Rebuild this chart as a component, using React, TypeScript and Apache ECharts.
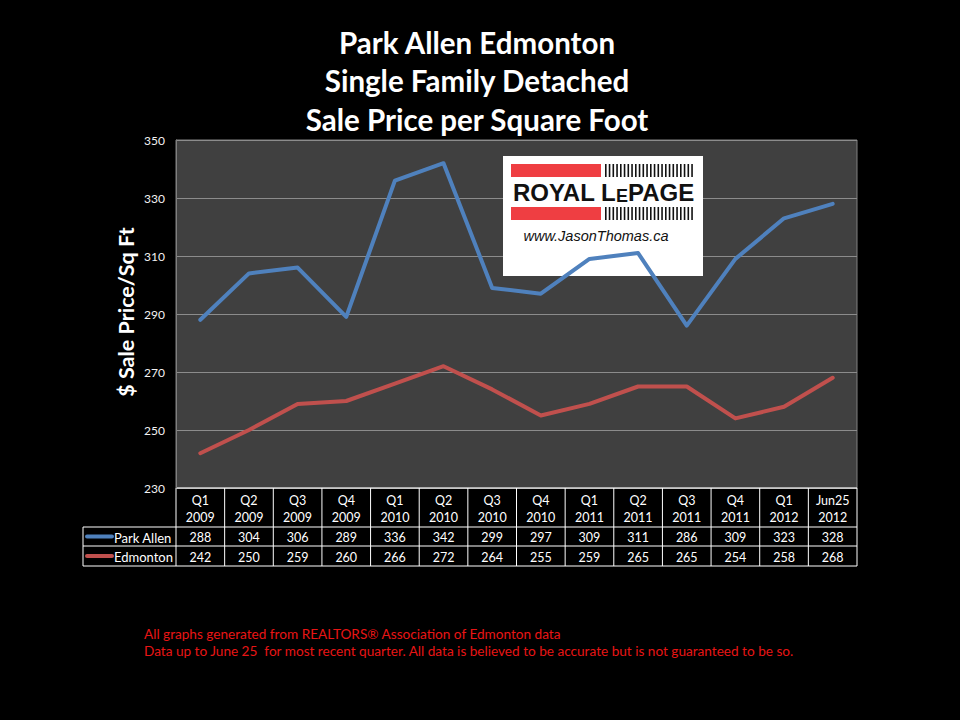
import React, { useEffect, useRef } from "react";
import * as echarts from "echarts";

const titleLines = ["Park Allen Edmonton", "Single Family Detached", "Sale Price per Square Foot"];
const categories = ["Q1\n2009", "Q2\n2009", "Q3\n2009", "Q4\n2009", "Q1\n2010", "Q2\n2010", "Q3\n2010", "Q4\n2010", "Q1\n2011", "Q2\n2011", "Q3\n2011", "Q4\n2011", "Q1\n2012", "Jun25\n2012"];
const parkAllen = [288, 304, 306, 289, 336, 342, 299, 297, 309, 311, 286, 309, 323, 328];
const edmonton = [242, 250, 259, 260, 266, 272, 264, 255, 259, 265, 265, 254, 258, 268];
const seriesNames = ["Park Allen", "Edmonton"];
const seriesColors = ["#4F81BD", "#C0504D"];
const yMin = 230;
const yMax = 350;
const yStep = 20;
const yAxisTitle = "$ Sale Price/Sq Ft";
const footerLines = [
  "All graphs generated from REALTORS\u00AE Association of Edmonton data",
  "Data up to June 25  for most recent quarter. All data is believed to be accurate but is not guaranteed to be so.",
];

const FONT = "Lato";

export default function App() {
  const ref = useRef<HTMLDivElement>(null);
  useEffect(() => {
    document.body.style.margin = "0";
    const chart = echarts.init(ref.current!, null, { renderer: "svg" });
    const gridLeft = 176;
    const gridRight = 960 - 857;
    const gridTop = 140;
    const gridBottom = 720 - 488;
    chart.setOption({
      animation: false,
      backgroundColor: "#000000",
      grid: {
        left: gridLeft,
        right: gridRight,
        top: gridTop,
        bottom: gridBottom,
        show: true,
        backgroundColor: "#404040",
        borderColor: "#808080",
        borderWidth: 1,
      },
      xAxis: {
        type: "category",
        data: categories,
        boundaryGap: true,
        axisLabel: { show: false },
        axisTick: { show: false },
        axisLine: { show: false },
        splitLine: { show: false },
      },
      yAxis: {
        type: "value",
        min: yMin,
        max: yMax,
        interval: yStep,
        axisLabel: { color: "#f2f2f2", fontFamily: FONT, fontSize: 12, margin: 11 },
        axisTick: { show: false },
        axisLine: { show: true, lineStyle: { color: "#808080" } },
        splitLine: { lineStyle: { color: "#8c8c8c", width: 1 } },
      },
      series: [
        {
          name: seriesNames[0],
          type: "line",
          data: parkAllen,
          symbol: "none",
          lineStyle: { color: seriesColors[0], width: 4, cap: "round", join: "round" },
          itemStyle: { color: seriesColors[0] },
        },
        {
          name: seriesNames[1],
          type: "line",
          data: edmonton,
          symbol: "none",
          lineStyle: { color: seriesColors[1], width: 4, cap: "round", join: "round" },
          itemStyle: { color: seriesColors[1] },
        },
      ],
    });

    // Table positions through the chart's own scales
    const xCenters = categories.map((_, i) => chart.convertToPixel({ xAxisIndex: 0 }, i) as number);
    const cellW = xCenters.length > 1 ? xCenters[1] - xCenters[0] : 48;
    const tableTop = chart.convertToPixel({ yAxisIndex: 0 }, yMin) as number;
    const tableLeftLegend = 83;
    const plotLeft = xCenters[0] - cellW / 2;
    const plotRight = xCenters[xCenters.length - 1] + cellW / 2;
    const headerBottom = tableTop + 39;
    const row1Bottom = headerBottom + 19;
    const row2Bottom = row1Bottom + 20;
    const rowsData = [parkAllen, edmonton];
    const rowTops = [headerBottom, row1Bottom];
    const rowBottoms = [row1Bottom, row2Bottom];

    const g: any[] = [];
    const lineStyle = { stroke: "#ffffff", lineWidth: 1 };
    g.push({ type: "line", shape: { x1: plotLeft, y1: tableTop, x2: plotRight, y2: tableTop }, style: lineStyle });
    [headerBottom, row1Bottom, row2Bottom].forEach((y) =>
      g.push({ type: "line", shape: { x1: tableLeftLegend, y1: y, x2: plotRight, y2: y }, style: lineStyle })
    );
    for (let i = 0; i <= categories.length; i++) {
      const x = plotLeft + i * cellW;
      g.push({ type: "line", shape: { x1: x, y1: tableTop, x2: x, y2: row2Bottom }, style: lineStyle });
    }
    g.push({ type: "line", shape: { x1: tableLeftLegend, y1: headerBottom, x2: tableLeftLegend, y2: row2Bottom }, style: lineStyle });
    categories.forEach((c, i) => {
      g.push({
        type: "text",
        x: xCenters[i],
        y: (tableTop + headerBottom) / 2 + 1,
        style: { text: c, fill: "#ffffff", font: `12.5px ${FONT}`, align: "center", verticalAlign: "middle", lineHeight: 17 },
      });
    });
    rowsData.forEach((arr, r) => {
      const cy = (rowTops[r] + rowBottoms[r]) / 2 + 1;
      arr.forEach((v, i) => {
        g.push({
          type: "text",
          x: xCenters[i],
          y: cy,
          style: { text: String(v), fill: "#ffffff", font: `12.5px ${FONT}`, align: "center", verticalAlign: "middle" },
        });
      });
      g.push({
        type: "line",
        shape: { x1: tableLeftLegend + 4, y1: cy - 1, x2: tableLeftLegend + 29, y2: cy - 1 },
        style: { stroke: seriesColors[r], lineWidth: 4, lineCap: "round" },
      });
      g.push({
        type: "text",
        x: tableLeftLegend + 31,
        y: cy,
        style: { text: seriesNames[r], fill: "#ffffff", font: `13px ${FONT}`, align: "left", verticalAlign: "middle" },
      });
    });

    titleLines.forEach((t, i) => {
      g.push({
        type: "text",
        x: 477,
        y: 42 + i * 38.5,
        style: { text: t, fill: "#ffffff", font: `bold 29.5px ${FONT}`, align: "center", verticalAlign: "middle" },
      });
    });
    g.push({
      type: "text",
      x: 126,
      y: 312,
      rotation: Math.PI / 2,
      style: { text: yAxisTitle, fill: "#ffffff", font: `bold 21.5px ${FONT}`, align: "center", verticalAlign: "middle" },
    });
    footerLines.forEach((t, i) => {
      g.push({
        type: "text",
        x: 144,
        y: 634 + i * 17,
        style: { text: t, fill: "#e81515", font: `13.6px ${FONT}`, align: "left", verticalAlign: "middle" },
      });
    });

    const lx = 503, ly = 156, lw = 200, lh = 120;
    g.push({ type: "rect", shape: { x: lx, y: ly, width: lw, height: lh }, style: { fill: "#ffffff" } });
    [164, 207].forEach((by) => {
      g.push({ type: "rect", shape: { x: 511, y: by, width: 90, height: 13 }, style: { fill: "#ef3e42" } });
      for (let k = 0; k < 24; k++) {
        g.push({ type: "rect", shape: { x: 605 + k * 3.75, y: by, width: 1.6, height: 13 }, style: { fill: "#111111" } });
      }
    });
    g.push({
      type: "text",
      x: 603.5,
      y: 192,
      style: {
        text: "{a|ROYAL L}{b|E}{a|PAGE}",
        align: "center",
        verticalAlign: "middle",
        rich: {
          a: { font: `bold 24px 'Liberation Sans'`, fill: "#111111", verticalAlign: "bottom", lineHeight: 25 },
          b: { font: `bold 18px 'Liberation Sans'`, fill: "#111111", verticalAlign: "bottom", lineHeight: 25 },
        },
      },
    });
    g.push({
      type: "text",
      x: 596,
      y: 236,
      style: { text: "www.JasonThomas.ca", fill: "#111111", font: `italic 14.5px 'Liberation Sans'`, align: "center", verticalAlign: "middle" },
    });

    chart.setOption({ graphic: g });
    return () => chart.dispose();
  }, []);
  return <div ref={ref} style={{ width: 960, height: 720 }} />;
}
